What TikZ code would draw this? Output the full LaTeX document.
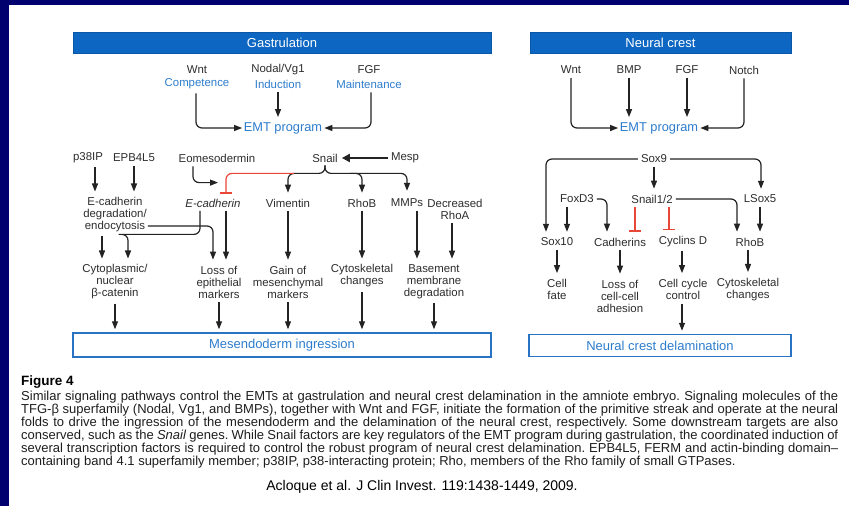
\documentclass[tikz,border=0pt]{standalone}
\usepackage{fontspec}
\setmainfont{Liberation Sans}
\usetikzlibrary{arrows.meta,calc}
\definecolor{navy}{RGB}{0,0,110}
\definecolor{barblue}{RGB}{12,102,194}
\definecolor{tblue}{RGB}{45,125,205}
\definecolor{txt}{RGB}{45,45,45}
\definecolor{captxt}{RGB}{30,30,30}
\definecolor{lnc}{RGB}{35,35,35}
\definecolor{inh}{RGB}{232,70,55}
\definecolor{boxblue}{RGB}{40,115,195}
\begin{document}
\begin{tikzpicture}[x=1pt,y=-1pt,
 lbl/.style={font=\fontsize{11.4}{12}\selectfont,text=txt,inner sep=0pt,align=center},
 blbl/.style={lbl,text=tblue},
 emt/.style={font=\fontsize{12.8}{14}\selectfont,text=tblue,inner sep=0pt},
 bar/.style={fill=barblue,draw=barblue!85!black,line width=0.5pt,text=white,font=\fontsize{13}{14}\selectfont,minimum height=21pt,inner sep=0pt},
 outbox/.style={draw=boxblue,line width=1.4pt,fill=white,text=tblue,font=\fontsize{13}{15}\selectfont,inner sep=0pt},
 arr/.style={draw=lnc,line width=1.2pt,-{Triangle[length=8pt,width=6pt]}},
 varr/.style={arr,shorten <=3.5pt,shorten >=6pt},
 inhib/.style={draw=inh,line width=1.2pt,-{Bar[width=12pt]}},
 rc/.style={rounded corners=6pt},
 captext/.style={font=\fontsize{13}{13}\selectfont\frenchspacing,text=captxt,inner sep=0pt,anchor=west}]
\fill[navy] (0,0) rectangle (849,506);
\fill[white] (9,5) rectangle (849,506);
\useasboundingbox (0,0) rectangle (849,506);

% ---------------- Gastrulation ----------------
\node[bar,minimum width=418pt] (gbar) at (282,42.5) {Gastrulation};
\node[lbl] (gwnt) at (197,70) {Wnt};
\node[blbl] (gcomp) at (197,84) {Competence};
\node[lbl] (gnod) at (278,70) {Nodal/Vg1};
\node[blbl] (gind) at (278,84) {Induction};
\node[lbl] (gfgf) at (369,70) {FGF};
\node[blbl] (gmain) at (369,84) {Maintenance};
\node[emt] (gemt) at (283,128) {EMT program};
\draw[arr,rc,shorten >=1.5pt] ([xshift=-1pt,yshift=-4pt]gcomp.south) |- (gemt.west);
\draw[varr,shorten >=5pt] (gind.south) -- (gind.south |- gemt.north);
\draw[arr,rc,shorten >=2pt] ([xshift=2pt,yshift=-4pt]gmain.south) |- (gemt.east);

\node[lbl] (gp38) at (88,158) {p38IP};
\node[lbl] (gepb) at (134,158) {EPB4L5};
\node[lbl] (geomes) at (217,158) {Eomesodermin};
\node[lbl] (gsnail) at (325,158) {Snail};
\node[lbl] (gmesp) at (405,158) {Mesp};
\draw[draw=lnc,line width=2.6pt,-{Triangle[length=8pt,width=8pt]},shorten <=3pt,shorten >=4pt] (gmesp.west) -- (gsnail.east);

\node[lbl] (gecd) at (115,215) {E-cadherin\\degradation/\\endocytosis};
\node[lbl] (gecad) at (213,203) {\itshape E-cadherin};
\node[lbl] (gvim) at (288,203) {Vimentin};
\node[lbl] (grhob) at (362,203) {RhoB};
\node[lbl] (gmmp) at (407,203) {MMPs};
\node[lbl] (gdec) at (455,209) {Decreased\\RhoA};

\draw[varr] ([xshift=7pt]gp38.south) -- ([xshift=7pt]gp38.south |- gecd.north);
\draw[varr] (gepb.south) -- (gepb.south |- gecd.north);
\draw[arr,rc,shorten <=4pt] ([xshift=-24pt]geomes.south) |- ([xshift=5pt,yshift=16pt]gecad.north);
% Snail brace
\draw[arr,rc,shorten <=3pt,shorten >=6pt] (gsnail.south) |- ([yshift=-11pt]gsnail.south -| gvim.north) -- (gvim.north);
\draw[arr,rc,shorten <=3pt,shorten >=8pt] (gsnail.south) |- ([yshift=-11pt]gsnail.south -| gmmp.north) -- (gmmp.north);
\draw[arr,rc,shorten >=6pt] ([xshift=25pt,yshift=-11pt]gsnail.south) -| (grhob.north);
\draw[inhib,rc,shorten >=5pt] ([xshift=6pt,yshift=-11pt]gsnail.south -| gvim.north) -| ([xshift=13pt]gecad.north);

\node[lbl] (gbcat) at (115,282) {Cytoplasmic/\\nuclear\\β-catenin};
\node[lbl] (gloss) at (219,282) {Loss of\\epithelial\\markers};
\node[lbl] (ggain) at (288,282) {Gain of\\mesenchymal\\markers};
\node[lbl] (gcyto) at (362,276) {Cytoskeletal\\changes};
\node[lbl] (gbase) at (434,282) {Basement\\membrane\\degradation};

\draw[varr] ([xshift=-13pt]gecd.south) -- ([xshift=-13pt]gecd.south |- gbcat.north);
\draw[arr,rc,shorten <=3.5pt,shorten >=6pt] ([xshift=-13pt]gecad.south) |- ([yshift=-27pt]gecad.south -| gecd.south) -| ([xshift=13pt]gbcat.north);
\draw[arr,rc,shorten >=6pt] ([xshift=1pt,yshift=-11pt]gecd.east) -| ([xshift=-6pt]gloss.north);
\draw[varr] ([xshift=13pt]gecad.south) -- ([xshift=7pt]gloss.north);
\draw[varr] (gvim.south) -- (ggain.north);
\draw[varr] (grhob.south) -- (gcyto.north);
\draw[varr] ([xshift=10pt]gmmp.south) -- ([xshift=10pt]gmmp.south |- gbase.north);
\draw[varr] ([xshift=-3pt]gdec.south) -- ([xshift=-3pt]gdec.south |- gbase.north);

\node[outbox,minimum width=418pt,minimum height=24pt] (gmes) at (282,345) {Mesendoderm ingression};
\draw[arr,shorten <=4pt,shorten >=3pt] (gbcat.south) -- (gbcat.south |- gmes.north);
\draw[arr,shorten <=4pt,shorten >=3pt] (gloss.south) -- (gloss.south |- gmes.north);
\draw[arr,shorten <=4pt,shorten >=3pt] (ggain.south) -- (ggain.south |- gmes.north);
\draw[arr,shorten <=4pt,shorten >=3pt] (gcyto.south) -- (gcyto.south |- gmes.north);
\draw[arr,shorten <=4pt,shorten >=3pt] (gbase.south) -- (gbase.south |- gmes.north);

% ---------------- Neural crest ----------------
\node[bar,minimum width=261pt] (nbar) at (660.5,42.5) {Neural crest};
\node[lbl] (nwnt) at (571,70) {Wnt};
\node[lbl] (nbmp) at (629,70) {BMP};
\node[lbl] (nfgf) at (687,70) {FGF};
\node[lbl] (nnotch) at (744,70) {Notch};
\node[emt] (nemt) at (659,128) {EMT program};
\draw[arr,rc,shorten >=1.5pt] ([yshift=-4pt]nwnt.south) |- (nemt.west);
\draw[varr,shorten >=5pt] (nbmp.south) -- (nbmp.south |- nemt.north);
\draw[varr,shorten >=5pt] (nfgf.south) -- (nfgf.south |- nemt.north);
\draw[arr,rc,shorten >=2pt] ([yshift=-4pt]nnotch.south) |- (nemt.east);

\node[lbl] (nsox9) at (654,159) {Sox9};
\node[lbl] (nfox) at (577,199) {FoxD3};
\node[lbl] (nsnail) at (652,199) {Snail1/2};
\node[lbl] (nlsox) at (760,199) {LSox5};
\node[lbl] (nsox10) at (557,242) {Sox10};
\node[lbl] (ncad) at (620,242) {Cadherins};
\node[lbl] (ncyc) at (683,242) {Cyclins D};
\node[lbl] (nrhob) at (750,242) {RhoB};

\draw[arr,rc,shorten >=6pt] ([xshift=-3pt]nsox9.west) -| ([xshift=-11pt]nsox10.north);
\draw[arr,rc,shorten >=6pt] ([xshift=3pt]nsox9.east) -| ([xshift=1pt]nlsox.north);
\draw[varr] (nsox9.south) -- (nsox9.south |- nsnail.north);
\draw[varr] ([xshift=-10pt]nfox.south) -- ([xshift=-10pt]nfox.south |- nsox10.north);
\draw[arr,rc,shorten >=6pt] ([xshift=3pt]nfox.east) -| ([xshift=-13pt]ncad.north);
\draw[inhib,shorten <=4pt,shorten >=6pt] ([xshift=-17pt]nsnail.south) -- ([xshift=-17pt]nsnail.south |- ncad.north);
\draw[inhib,shorten <=4pt,shorten >=6pt] ([xshift=17pt]nsnail.south) -- ([xshift=17pt]nsnail.south |- ncyc.north);
\draw[arr,rc,shorten >=6pt] ([xshift=3pt]nsnail.east) -| ([xshift=-13pt]nrhob.north);
\draw[varr] (nlsox.south) -- (nlsox.south |- nrhob.north);

\node[lbl] (ncell) at (557,289.5) {Cell\\fate};
\node[lbl] (nloss) at (620,296) {Loss of\\cell-cell\\adhesion};
\node[lbl] (ncc) at (683,289.5) {Cell cycle\\control};
\node[lbl] (ncyto) at (748,289.5) {Cytoskeletal\\changes};
\draw[varr] (nsox10.south) -- (nsox10.south |- ncell.north);
\draw[varr] (ncad.south) -- (ncad.south |- nloss.north);
\draw[varr] ([xshift=-1pt]ncyc.south) -- ([xshift=-1pt]ncyc.south |- ncc.north);
\draw[varr] ([xshift=-2pt]nrhob.south) -- ([xshift=-2pt]nrhob.south |- ncyto.north);

\node[outbox,minimum width=262pt,minimum height=22pt] (nbox) at (660,345.5) {Neural crest delamination};
\draw[arr,shorten <=4pt,shorten >=3pt] ([xshift=-1pt]ncc.south) -- ([xshift=-1pt]ncc.south |- nbox.north);

% ---------------- Caption ----------------
\node[anchor=west,font=\bfseries\fontsize{13.5}{15}\selectfont,text=black,inner sep=0pt] (fig) at (21,382) {Figure 4};
\node[captext] (c1) at (21,397) {\makebox[817pt][s]{Similar signaling pathways control the EMTs at gastrulation and neural crest delamination in the amniote embryo. Signaling molecules of the}};
\node[captext] (c2) at (21,410) {\makebox[817pt][s]{TFG-β superfamily (Nodal, Vg1, and BMPs), together with Wnt and FGF, initiate the formation of the primitive streak and operate at the neural}};
\node[captext] (c3) at (21,423) {\makebox[817pt][s]{folds to drive the ingression of the mesendoderm and the delamination of the neural crest, respectively. Some downstream targets are also}};
\node[captext] (c4) at (21,436) {\makebox[817pt][s]{conserved, such as the \textit{Snail} genes. While Snail factors are key regulators of the EMT program during gastrulation, the coordinated induction of}};
\node[captext] (c5) at (21,449) {\makebox[817pt][s]{several transcription factors is required to control the robust program of neural crest delamination. EPB4L5, FERM and actin-binding domain--}};
\node[captext] (c6) at (21,462) {containing band 4.1 superfamily member; p38IP, p38-interacting protein; Rho, members of the Rho family of small GTPases.};
\node[font=\fontsize{14}{16}\selectfont,text=black,inner sep=0pt] (cite) at (422,487) {Acloque et al. J Clin Invest. 119:1438-1449, 2009.};
\end{tikzpicture}
\end{document}
